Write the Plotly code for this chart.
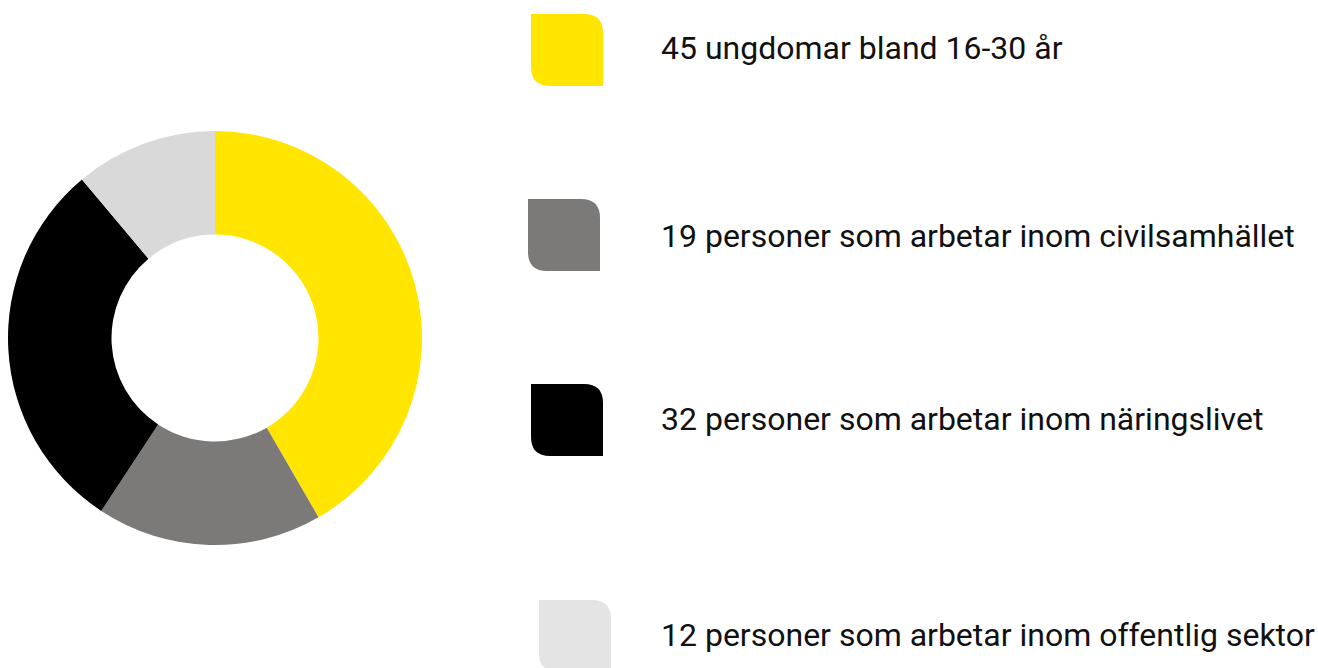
import plotly.graph_objects as go

W, H = 1318, 668

labels = ["45 ungdomar bland 16-30 år",
          "19 personer som arbetar inom civilsamhället",
          "32 personer som arbetar inom näringslivet",
          "12 personer som arbetar inom offentlig sektor"]
values = [45, 19, 32, 12]
pie_colors = ["#FFE500", "#7B7A78", "#000000", "#D9D9D9"]
icon_colors = ["#FFE500", "#7B7A78", "#000000", "#E4E4E4"]

# legend layout (pixels)
icon_x = [531, 528, 531, 539]
icon_y = [14, 199, 384, 600]
icon_size = 72
radius = 19
text_x = 659
text_y = [48, 236, 419, 635]


def px(x):
    return x / W


def py(y):
    return 1 - y / H


def icon_path(x0, y0, s, r):
    x1, y1 = x0 + s, y0 + s
    pts = [
        f"M {px(x0)},{py(y0)}",
        f"L {px(x1 - r)},{py(y0)}",
        f"Q {px(x1)},{py(y0)} {px(x1)},{py(y0 + r)}",
        f"L {px(x1)},{py(y1)}",
        f"L {px(x0 + r)},{py(y1)}",
        f"Q {px(x0)},{py(y1)} {px(x0)},{py(y1 - r)}",
        "Z",
    ]
    return " ".join(pts)


fig = go.Figure()
fig.add_trace(go.Pie(
    labels=labels, values=values, sort=False, direction="clockwise", rotation=0,
    hole=0.5, marker=dict(colors=pie_colors, line=dict(width=0)),
    textinfo="none", hoverinfo="label+value", showlegend=False,
    domain=dict(x=[px(8), px(422)], y=[py(545), py(131)]),
))

shapes = []
annotations = []
for i, lab in enumerate(labels):
    shapes.append(dict(type="path", xref="paper", yref="paper",
                       path=icon_path(icon_x[i], icon_y[i], icon_size, radius),
                       fillcolor=icon_colors[i], line=dict(width=0), layer="above"))
    annotations.append(dict(text=lab, xref="paper", yref="paper",
                            x=px(text_x), y=py(text_y[i]), xanchor="left", yanchor="middle",
                            showarrow=False,
                            font=dict(family="Roboto", size=32, color="#111111")))

fig.update_layout(
    width=W, height=H, margin=dict(l=0, r=0, t=0, b=0),
    paper_bgcolor="white", plot_bgcolor="white",
    shapes=shapes, annotations=annotations, showlegend=False,
)

fig.write_html("out.html", config={"displayModeBar": False},
               post_script="document.body.style.margin='0';document.body.style.overflow='hidden';")
